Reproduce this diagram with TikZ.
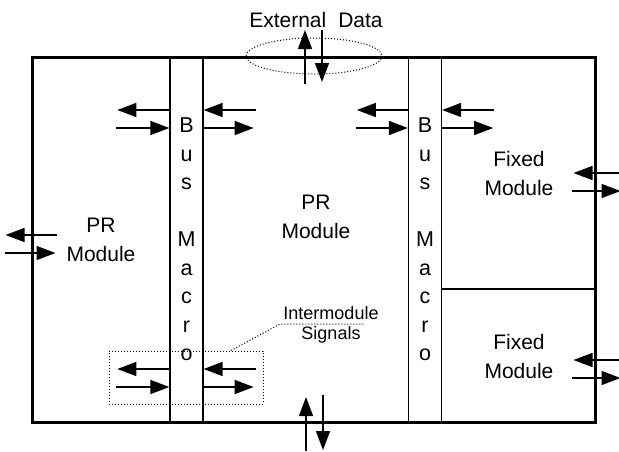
\documentclass[tikz,border=0pt]{standalone}
\usepackage{fontspec}
\setmainfont{Liberation Sans}
\usetikzlibrary{arrows.meta}
\tikzset{
  arr/.style={line width=1.5pt, -{Triangle[length=19pt,width=14pt]}},
  frm/.style={draw, line width=3pt, minimum width=563pt, minimum height=365pt, inner sep=0pt},
  busbox/.style={draw, line width=1.3pt, minimum width=33pt, minimum height=365pt, inner sep=0pt, align=center, font=\fontsize{21.5}{28.5}\selectfont},
  lbl/.style={align=center, inner sep=0pt, font=\fontsize{21}{29}\selectfont},
  small/.style={align=center, inner sep=0pt, font=\fontsize{18}{20}\selectfont},
  dots/.style={dotted, line width=1pt},
}
\begin{document}
\begin{tikzpicture}[x=1pt,y=-1pt]
\useasboundingbox (0,0) rectangle (619,451);
% bus macros
\node[busbox] (bm1) at (186.5,239.5) {B\\u\\s\\~\\M\\a\\c\\r\\o};
\node[busbox] (bm2) at (425,239.5) {B\\u\\s\\~\\M\\a\\c\\r\\o};
% frame
\node[frm] (frame) at (313.5,239.5) {};
% divider between fixed modules
\coordinate (dv) at (0,289);
\draw[line width=1.3pt] (bm2.east |- dv) -- (frame.east |- dv);
% labels
\node[lbl] (prl) at (101,240) {PR\\Module};
\node[lbl] (prm) at (316,217) {PR\\Module};
\node[lbl] (fx1) at (519,173) {Fixed\\Module};
\node[lbl] (fx2) at (519,356) {Fixed\\Module};
\node[lbl] (ext) at (316,20) {External\hspace{12pt}Data};
\node[small] (isig) at (331,325) {Intermodule\\Signals};
% external data ellipse
\draw[dots] (314,56) ellipse [x radius=68, y radius=18];
% top vertical arrows
\coordinate (tu) at (305,84);
\coordinate (td) at (322,30);
\draw[arr] (tu) -- ++(0,-54);
\draw[arr] (td) -- ++(0,52);
% bottom vertical arrows
\coordinate (bu) at (306,451);
\coordinate (bd) at (323,395);
\draw[arr] (bu) -- ++(0,-54);
\draw[arr] (bd) -- ++(0,55);
% bus macro 1 arrows
\foreach \ya/\yb in {110/128, 369/387}{
  \draw[arr] (bm1.west |- 0,\ya) -- ++(-52,0);
  \draw[arr] (bm1.west |- 0,\yb) ++(-53,0) -- (bm1.west |- 0,\yb);
  \draw[arr] (bm1.east |- 0,\ya) ++(52,0) -- (bm1.east |- 0,\ya);
  \draw[arr] (bm1.east |- 0,\yb) -- ++(50,0);
}
% bus macro 2 arrows
\draw[arr] (bm2.west |- 0,110) -- ++(-51,0);
\draw[arr] (bm2.west |- 0,128) ++(-52,0) -- (bm2.west |- 0,128);
\draw[arr] (bm2.east |- 0,110) ++(52,0) -- (bm2.east |- 0,110);
\draw[arr] (bm2.east |- 0,128) -- ++(51,0);
% fixed module arrows
\foreach \ya/\yb in {173/191, 360/378}{
  \draw[arr] (frame.east |- 0,\ya) ++(24,0) -- ++(-47,0);
  \draw[arr] (frame.east |- 0,\yb) ++(-25,0) -- ++(49,0);
}
% left PR module arrows
\draw[arr] (frame.west |- 0,235) ++(26,0) -- ++(-51,0);
\draw[arr] (frame.west |- 0,253) ++(-26,0) -- ++(51,0);
% intermodule signal box and leader
\node[draw, dots, minimum width=154pt, minimum height=53pt, inner sep=0pt] (ibox) at (186,377.5) {};
\coordinate (ld) at (280,324);
\coordinate (le) at (365,324);
\draw[dots] (ibox.north -| 231,0) -- (ld) -- (le);
\end{tikzpicture}
\end{document}
